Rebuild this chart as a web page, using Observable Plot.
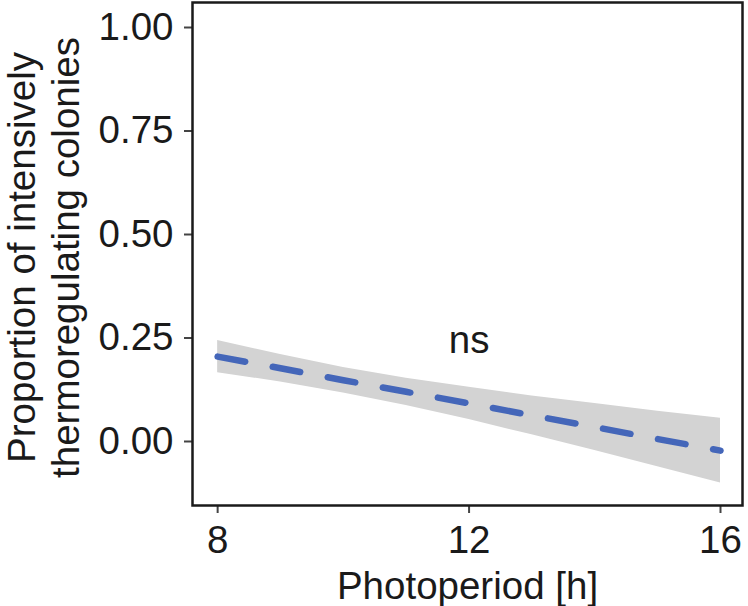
<!DOCTYPE html>
<html>
<head>
<meta charset="utf-8">
<script src="https://cdn.jsdelivr.net/npm/d3@7"></script>
<script src="https://cdn.jsdelivr.net/npm/@observablehq/plot@0.6"></script>
<style>
  html, body { margin: 0; padding: 0; background: white; }
</style>
</head>
<body>
<div id="chart"></div>
<script>
// Data
const photoperiod = [8, 9, 10, 11, 12, 13, 14, 15, 16];
const fitted = [0.205, 0.177, 0.148, 0.120, 0.092, 0.063, 0.035, 0.006, -0.022];
const upperCI = [0.244, 0.210, 0.179, 0.153, 0.131, 0.110, 0.092, 0.073, 0.056];
const lowerCI = [0.166, 0.144, 0.117, 0.087, 0.053, 0.016, -0.022, -0.061, -0.100];

const xTicks = [8, 12, 16];
const yTicks = [0, 0.25, 0.5, 0.75, 1];

const xTitle = "Photoperiod [h]";
const yTitle = "Proportion of intensively\nthermoregulating colonies";

const annotText = "ns";
const annotX = 12;
const annotY = 0.244;

const rows = photoperiod.map((x, i) => ({x, fit: fitted[i], lo: lowerCI[i], hi: upperCI[i]}));

const FS = 38.5;

const chart = Plot.plot({
  width: 748,
  height: 606,
  marginLeft: 192,
  marginRight: 6,
  marginTop: 2,
  marginBottom: 101,
  style: {
    fontFamily: "'Liberation Sans', Arial, sans-serif",
    fontSize: FS + "px",
    color: "#1a1a1a",
    background: "white",
    overflow: "visible"
  },
  x: {domain: [7.6, 16.35]},
  y: {domain: [-0.1546, 1.0604]},
  marks: [
    Plot.areaY(rows, {x: "x", y1: "lo", y2: "hi", fill: "#d3d3d3"}),
    Plot.line(rows, {x: "x", y: "fit", stroke: "#4466b9", strokeWidth: 6.5, strokeDasharray: "28,28"}),
    Plot.text([annotText], {x: () => annotX, y: () => annotY, text: d => d, fontSize: FS, fill: "#1a1a1a", lineAnchor: "middle"}),
    Plot.axisX(xTicks, {tickSize: 8, tickPadding: 12, stroke: "#444", strokeWidth: 2, fill: "#1a1a1a", fontSize: FS, label: null, tickFormat: d => String(d)}),
    Plot.axisY(yTicks, {tickSize: 8, tickPadding: 11, stroke: "#444", strokeWidth: 2, fill: "#1a1a1a", fontSize: FS, label: null, tickFormat: d3.format(".2f")}),
    Plot.frame({stroke: "#1a1a1a", strokeWidth: 2.5}),
    Plot.text([xTitle], {frameAnchor: "bottom", lineAnchor: "top", dy: 66, text: d => d, fontSize: FS, fill: "#1a1a1a"}),
    Plot.text([yTitle], {frameAnchor: "left", rotate: -90, textAnchor: "middle", lineAnchor: "top", lineHeight: 1.15, dx: -189, dy: 3.5, text: d => d, fontSize: FS, fill: "#1a1a1a"})
  ]
});

document.getElementById("chart").appendChild(chart);
</script>
</body>
</html>
